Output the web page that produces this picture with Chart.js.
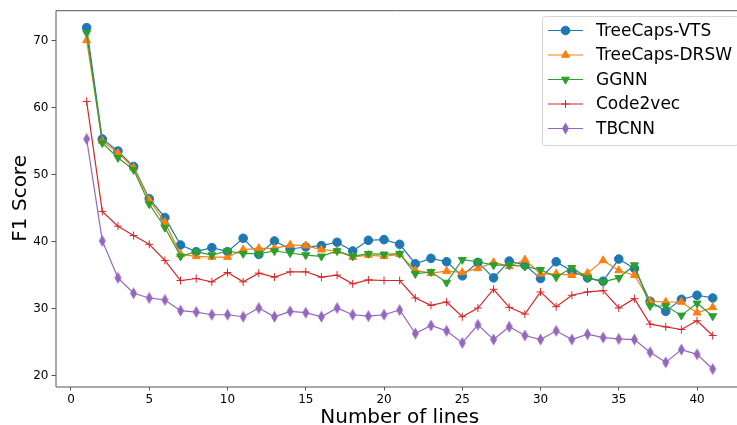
<!DOCTYPE html>
<html>
<head>
<meta charset="utf-8">
<script src="https://cdn.jsdelivr.net/npm/chart.js@4.4.1/dist/chart.umd.min.js"></script>
<style>
  html, body { margin: 0; padding: 0; background: #fff; overflow: hidden; }
  #wrap { width: 737px; height: 425px; overflow: hidden; }
  #f1-chart { display: block; }
</style>
</head>
<body>
<div id="wrap"><canvas id="f1-chart" width="737" height="425"></canvas></div>
<script>
// data
const lines = [1, 2, 3, 4, 5, 6, 7, 8, 9, 10, 11, 12, 13, 14, 15, 16, 17, 18, 19, 20,
    21, 22, 23, 24, 25, 26, 27, 28, 29, 30, 31, 32, 33, 34, 35, 36, 37, 38, 39, 40, 41];

const treeCapsVTS = [71.9, 55.3, 53.5, 51.2, 46.4, 43.6, 39.5, 38.5, 39.1, 38.5, 40.5, 38.1, 40.1, 38.9, 39.2, 39.4, 39.9, 38.6, 40.2, 40.3,
    39.6, 36.7, 37.5, 37.0, 34.9, 36.9, 34.6, 37.1, 36.5, 34.5, 37.0, 35.6, 34.6, 34.1, 37.4, 36.0, 31.1, 29.6, 31.4, 32.0, 31.6];
const treeCapsDRSW = [70.0, 55.0, 53.2, 51.0, 46.2, 42.9, 38.1, 37.8, 37.7, 37.7, 38.8, 39.0, 39.0, 39.5, 39.4, 38.8, 38.6, 37.7, 38.0, 37.8,
    38.1, 35.7, 35.3, 35.6, 35.4, 36.0, 36.9, 36.3, 37.3, 35.2, 35.2, 35.0, 35.3, 37.2, 35.7, 35.0, 31.1, 31.0, 31.0, 29.4, 30.2];
const ggnn = [71.1, 54.7, 52.5, 50.7, 45.6, 42.1, 37.8, 38.5, 38.0, 38.6, 38.2, 38.2, 38.6, 38.3, 38.0, 37.8, 38.6, 37.8, 38.2, 38.1,
    38.2, 35.2, 35.5, 33.9, 37.3, 37.0, 36.5, 36.5, 36.3, 35.8, 34.7, 36.1, 34.6, 34.0, 34.6, 36.5, 30.4, 30.4, 29.0, 30.8, 28.9];
const code2vec = [60.9, 44.5, 42.3, 40.9, 39.6, 37.2, 34.2, 34.5, 34.0, 35.4, 34.0, 35.3, 34.7, 35.5, 35.5, 34.7, 35.0, 33.7, 34.3, 34.2,
    34.2, 31.6, 30.5, 31.0, 28.8, 30.1, 32.9, 30.2, 29.2, 32.5, 30.3, 32.0, 32.5, 32.7, 30.1, 31.5, 27.7, 27.3, 26.9, 28.2, 26.0];
const tbcnn = [55.3, 40.1, 34.6, 32.3, 31.6, 31.3, 29.7, 29.5, 29.1, 29.1, 28.8, 30.1, 28.8, 29.6, 29.4, 28.8, 30.1, 29.1, 28.9, 29.1,
    29.8, 26.3, 27.5, 26.7, 24.9, 27.6, 25.4, 27.3, 26.0, 25.4, 26.7, 25.4, 26.2, 25.7, 25.5, 25.4, 23.5, 22.0, 23.9, 23.2, 21.0];

const seriesNames = ["TreeCaps-VTS", "TreeCaps-DRSW", "GGNN", "Code2vec", "TBCNN"];
const xTicks = [0, 5, 10, 15, 20, 25, 30, 35, 40];
const yTicks = [20, 30, 40, 50, 60, 70];
const xTitle = "Number of lines";
const yTitle = "F1 Score";

const FONT = "'DejaVu Sans', sans-serif";
const SPINE = "#555";

window.addEventListener("load", function () {
    drawChart();
});

// matplotlib 'd' marker (thin diamond)
function thinDiamond(color) {
    let c = document.createElement("canvas");
    c.width = 9;
    c.height = 13;
    let g = c.getContext("2d");
    g.fillStyle = color;
    g.beginPath();
    g.moveTo(4.5, 0.5);
    g.lineTo(8, 6.5);
    g.lineTo(4.5, 12.5);
    g.lineTo(1, 6.5);
    g.closePath();
    g.fill();
    return c;
}

function makeSet(label, data, color, style, rot, radius, order) {
    return {
        label: label,
        data: lines.map((x, i) => ({ x: x, y: data[i] })),
        borderColor: color,
        backgroundColor: color,
        borderWidth: 1.2,
        pointStyle: style,
        pointRotation: rot,
        pointRadius: radius,
        pointHoverRadius: radius,
        pointBorderWidth: 1,
        pointBorderColor: color,
        pointBackgroundColor: color,
        tension: 0,
        clip: false,
        order: order
    };
}

function drawChart() {
    const colors = ["#1f77b4", "#ff7f0e", "#2ca02c", "#d62728", "#9467bd"];

    let datasets = [
        makeSet(seriesNames[0], treeCapsVTS, colors[0], "circle", 0, 4.3, 5),
        makeSet(seriesNames[1], treeCapsDRSW, colors[1], "triangle", 0, 4.6, 4),
        makeSet(seriesNames[2], ggnn, colors[2], "triangle", 180, 4.6, 3),
        makeSet(seriesNames[3], code2vec, colors[3], "cross", 0, 4, 2),
        makeSet(seriesNames[4], tbcnn, colors[4], thinDiamond(colors[4]), 0, 5, 1)
    ];

    // spines (right one is cut off in the original), x title, legend box
    const framePlugin = {
        id: "frame",
        afterDraw(chart) {
            let ctx = chart.ctx;
            let a = chart.chartArea;
            ctx.save();
            ctx.strokeStyle = SPINE;
            ctx.lineWidth = 1;
            ctx.beginPath();
            ctx.moveTo(chart.width, a.top + 0.5);
            ctx.lineTo(a.left + 0.5, a.top + 0.5);
            ctx.lineTo(a.left + 0.5, a.bottom + 0.5);
            ctx.lineTo(chart.width, a.bottom + 0.5);
            ctx.stroke();

            // x title centred on the full (uncropped) axis -1..43
            let xs = chart.scales.x;
            ctx.fillStyle = "#000";
            ctx.font = "20px " + FONT;
            ctx.textAlign = "center";
            ctx.textBaseline = "alphabetic";
            ctx.fillText(xTitle, xs.getPixelForValue(21), chart.height - 2.5);

            // legend
            let bx = 542, by = 16, bw = 196, bh = 129;
            ctx.fillStyle = "rgba(255,255,255,0.8)";
            ctx.strokeStyle = "#d5d5d5";
            ctx.beginPath();
            ctx.roundRect(bx + 0.5, by + 0.5, bw, bh, 3);
            ctx.fill();
            ctx.stroke();

            ctx.font = "17px " + FONT;
            ctx.textBaseline = "middle";
            ctx.textAlign = "left";
            chart.data.datasets.forEach(function (ds, i) {
                let y = 30.5 + i * 24.5;
                ctx.strokeStyle = ds.borderColor;
                ctx.lineWidth = ds.borderWidth;
                ctx.beginPath();
                ctx.moveTo(548, y);
                ctx.lineTo(583, y);
                ctx.stroke();
                ctx.fillStyle = ds.backgroundColor;
                ctx.lineWidth = 1;
                Chart.helpers.drawPoint(ctx, {
                    pointStyle: ds.pointStyle,
                    radius: ds.pointRadius,
                    rotation: ds.pointRotation,
                    borderWidth: 1
                }, 565.5, y);
                ctx.fillStyle = "#000";
                ctx.fillText(ds.label, 596, y + 1);
            });
            ctx.restore();
        }
    };

    new Chart(document.getElementById("f1-chart"), {
        type: "line",
        data: { datasets: datasets },
        options: {
            responsive: false,
            animation: false,
            events: [],
            layout: { padding: { top: 8, right: 0, left: 0, bottom: 0 } },
            plugins: {
                legend: { display: false },
                tooltip: { enabled: false }
            },
            scales: {
                x: {
                    type: "linear",
                    min: -0.99,
                    max: 42.17,
                    afterBuildTicks: function (scale) {
                        scale.ticks = xTicks.map(v => ({ value: v }));
                    },
                    afterFit: function (scale) { scale.height = 38.5; },
                    grid: { display: true, drawOnChartArea: false, drawTicks: true, tickLength: 4, tickColor: SPINE },
                    border: { display: false },
                    ticks: { color: "#000", font: { family: FONT, size: 12 }, padding: 2, maxRotation: 0, autoSkip: false },
                    title: { display: false }
                },
                y: {
                    min: 18.4,
                    max: 74.5,
                    afterBuildTicks: function (scale) {
                        scale.ticks = yTicks.map(v => ({ value: v }));
                    },
                    afterFit: function (scale) { scale.width = 55.5; },
                    grid: { display: true, drawOnChartArea: false, drawTicks: true, tickLength: 4, tickColor: SPINE },
                    border: { display: false },
                    ticks: { color: "#000", font: { family: FONT, size: 12 }, padding: 3 },
                    title: { display: true, text: yTitle, color: "#000", font: { family: FONT, size: 20 }, padding: { top: 9, bottom: 0 } }
                }
            }
        },
        plugins: [framePlugin]
    });
}
</script>
</body>
</html>
